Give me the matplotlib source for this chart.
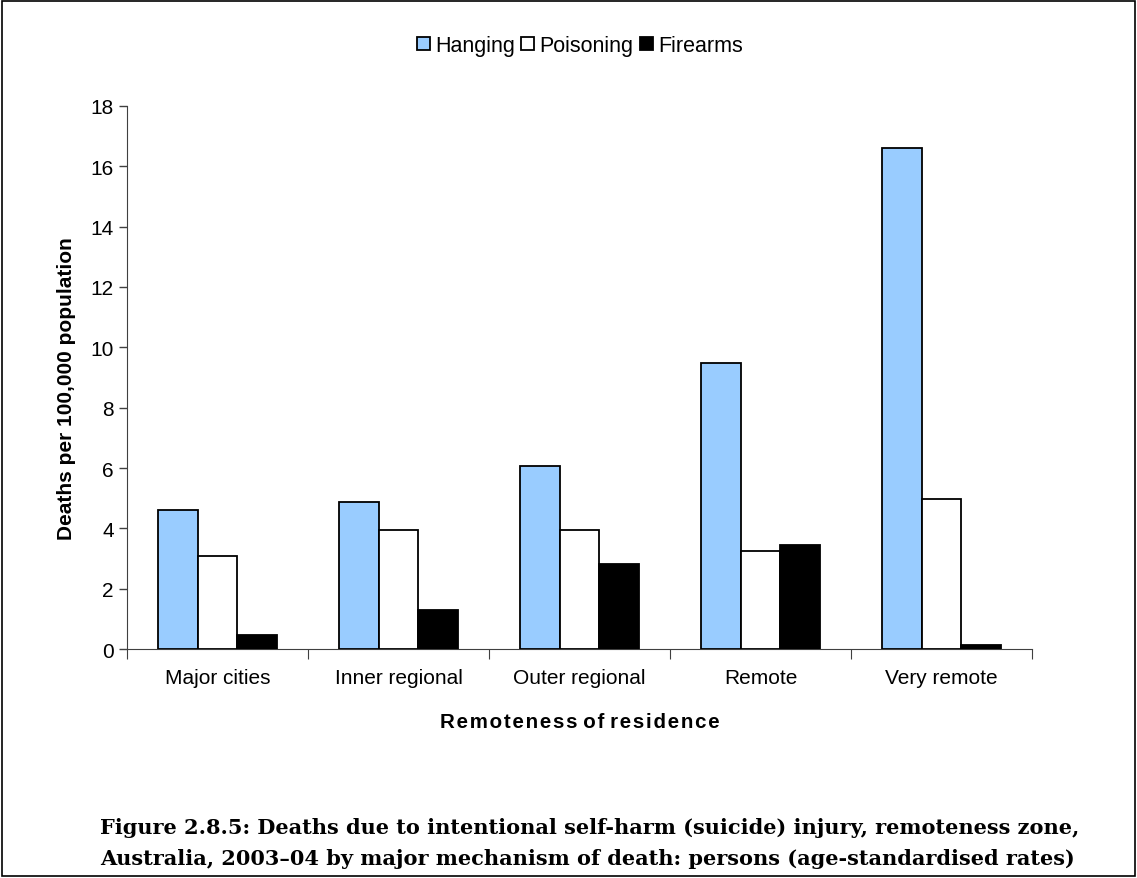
import numpy as np
import matplotlib.pyplot as plt
from matplotlib.patches import Rectangle

# Values
zones = ['Major cities', 'Inner regional', 'Outer regional', 'Remote', 'Very remote']
hanging = [4.6, 4.88, 6.08, 9.47, 16.6]
poisoning = [3.08, 3.95, 3.95, 3.25, 4.98]
firearms = [0.48, 1.29, 2.81, 3.46, 0.14]
series_names = ['Hanging', 'Poisoning', 'Firearms']
colors = ['#99ccff', '#ffffff', '#000000']

plt.rcParams['font.family'] = ['Liberation Sans', 'DejaVu Sans']

fig = plt.figure(figsize=(11.37, 8.79), dpi=100)
ax = fig.add_axes([0.1117, 0.2605, 0.7960, 0.6178])

x = np.arange(len(zones))
w = 0.22
for i, (vals, name, c) in enumerate(zip([hanging, poisoning, firearms], series_names, colors)):
    ax.bar(x + (i - 1) * w, vals, width=w, color=c, edgecolor='black',
           linewidth=1.3, label=name, zorder=3)

ax.set_xlim(-0.5, len(zones) - 0.5)
ax.set_ylim(0, 18)
ax.set_yticks(np.arange(0, 19, 2))
ax.tick_params(axis='y', labelsize=15, length=6, direction='out', width=1, colors='#404040',
               labelcolor='black')
ax.set_xticks(np.arange(-0.5, len(zones), 1))
ax.set_xticklabels([])
ax.set_xticks(x, minor=True)
ax.set_xticklabels(zones, minor=True)
ax.tick_params(axis='x', which='major', length=7, direction='out', colors='#404040')
ax.tick_params(axis='x', which='minor', length=0, labelsize=15, pad=14)
for s in ['top', 'right']:
    ax.spines[s].set_visible(False)
for s in ['left', 'bottom']:
    ax.spines[s].set_color('#404040')

ax.set_ylabel('Deaths per 100,000 population', fontsize=15, fontweight='bold')
ax.yaxis.set_label_coords(-0.056, 0.481)
xlab = '\u200a'.join('Remoteness') + ' ' + '\u200a'.join('of') + ' ' + '\u200a'.join('residence')
ax.set_xlabel(xlab, fontsize=14.8, fontweight='bold', labelpad=18)

leg = fig.legend(loc='center', bbox_to_anchor=(0.51, 0.947), ncol=3, frameon=False,
                 fontsize=15.5, handlelength=0.6, handleheight=0.6, handletextpad=0.25,
                 columnspacing=0.3)

fig.text(0.088, 0.040, 'Figure 2.8.5: Deaths due to intentional self-harm (suicide) injury, remoteness zone,\n'
         'Australia, 2003\u201304 by major mechanism of death: persons (age-standardised rates)',
         family='DejaVu Serif', fontweight='bold', fontsize=15, ha='left', va='center',
         linespacing=1.7)

fig.patches.append(Rectangle((0.002, 0.002), 0.996, 0.996, transform=fig.transFigure,
                             fill=False, edgecolor='black', linewidth=1.2))

fig.savefig('out.png', dpi=100)
